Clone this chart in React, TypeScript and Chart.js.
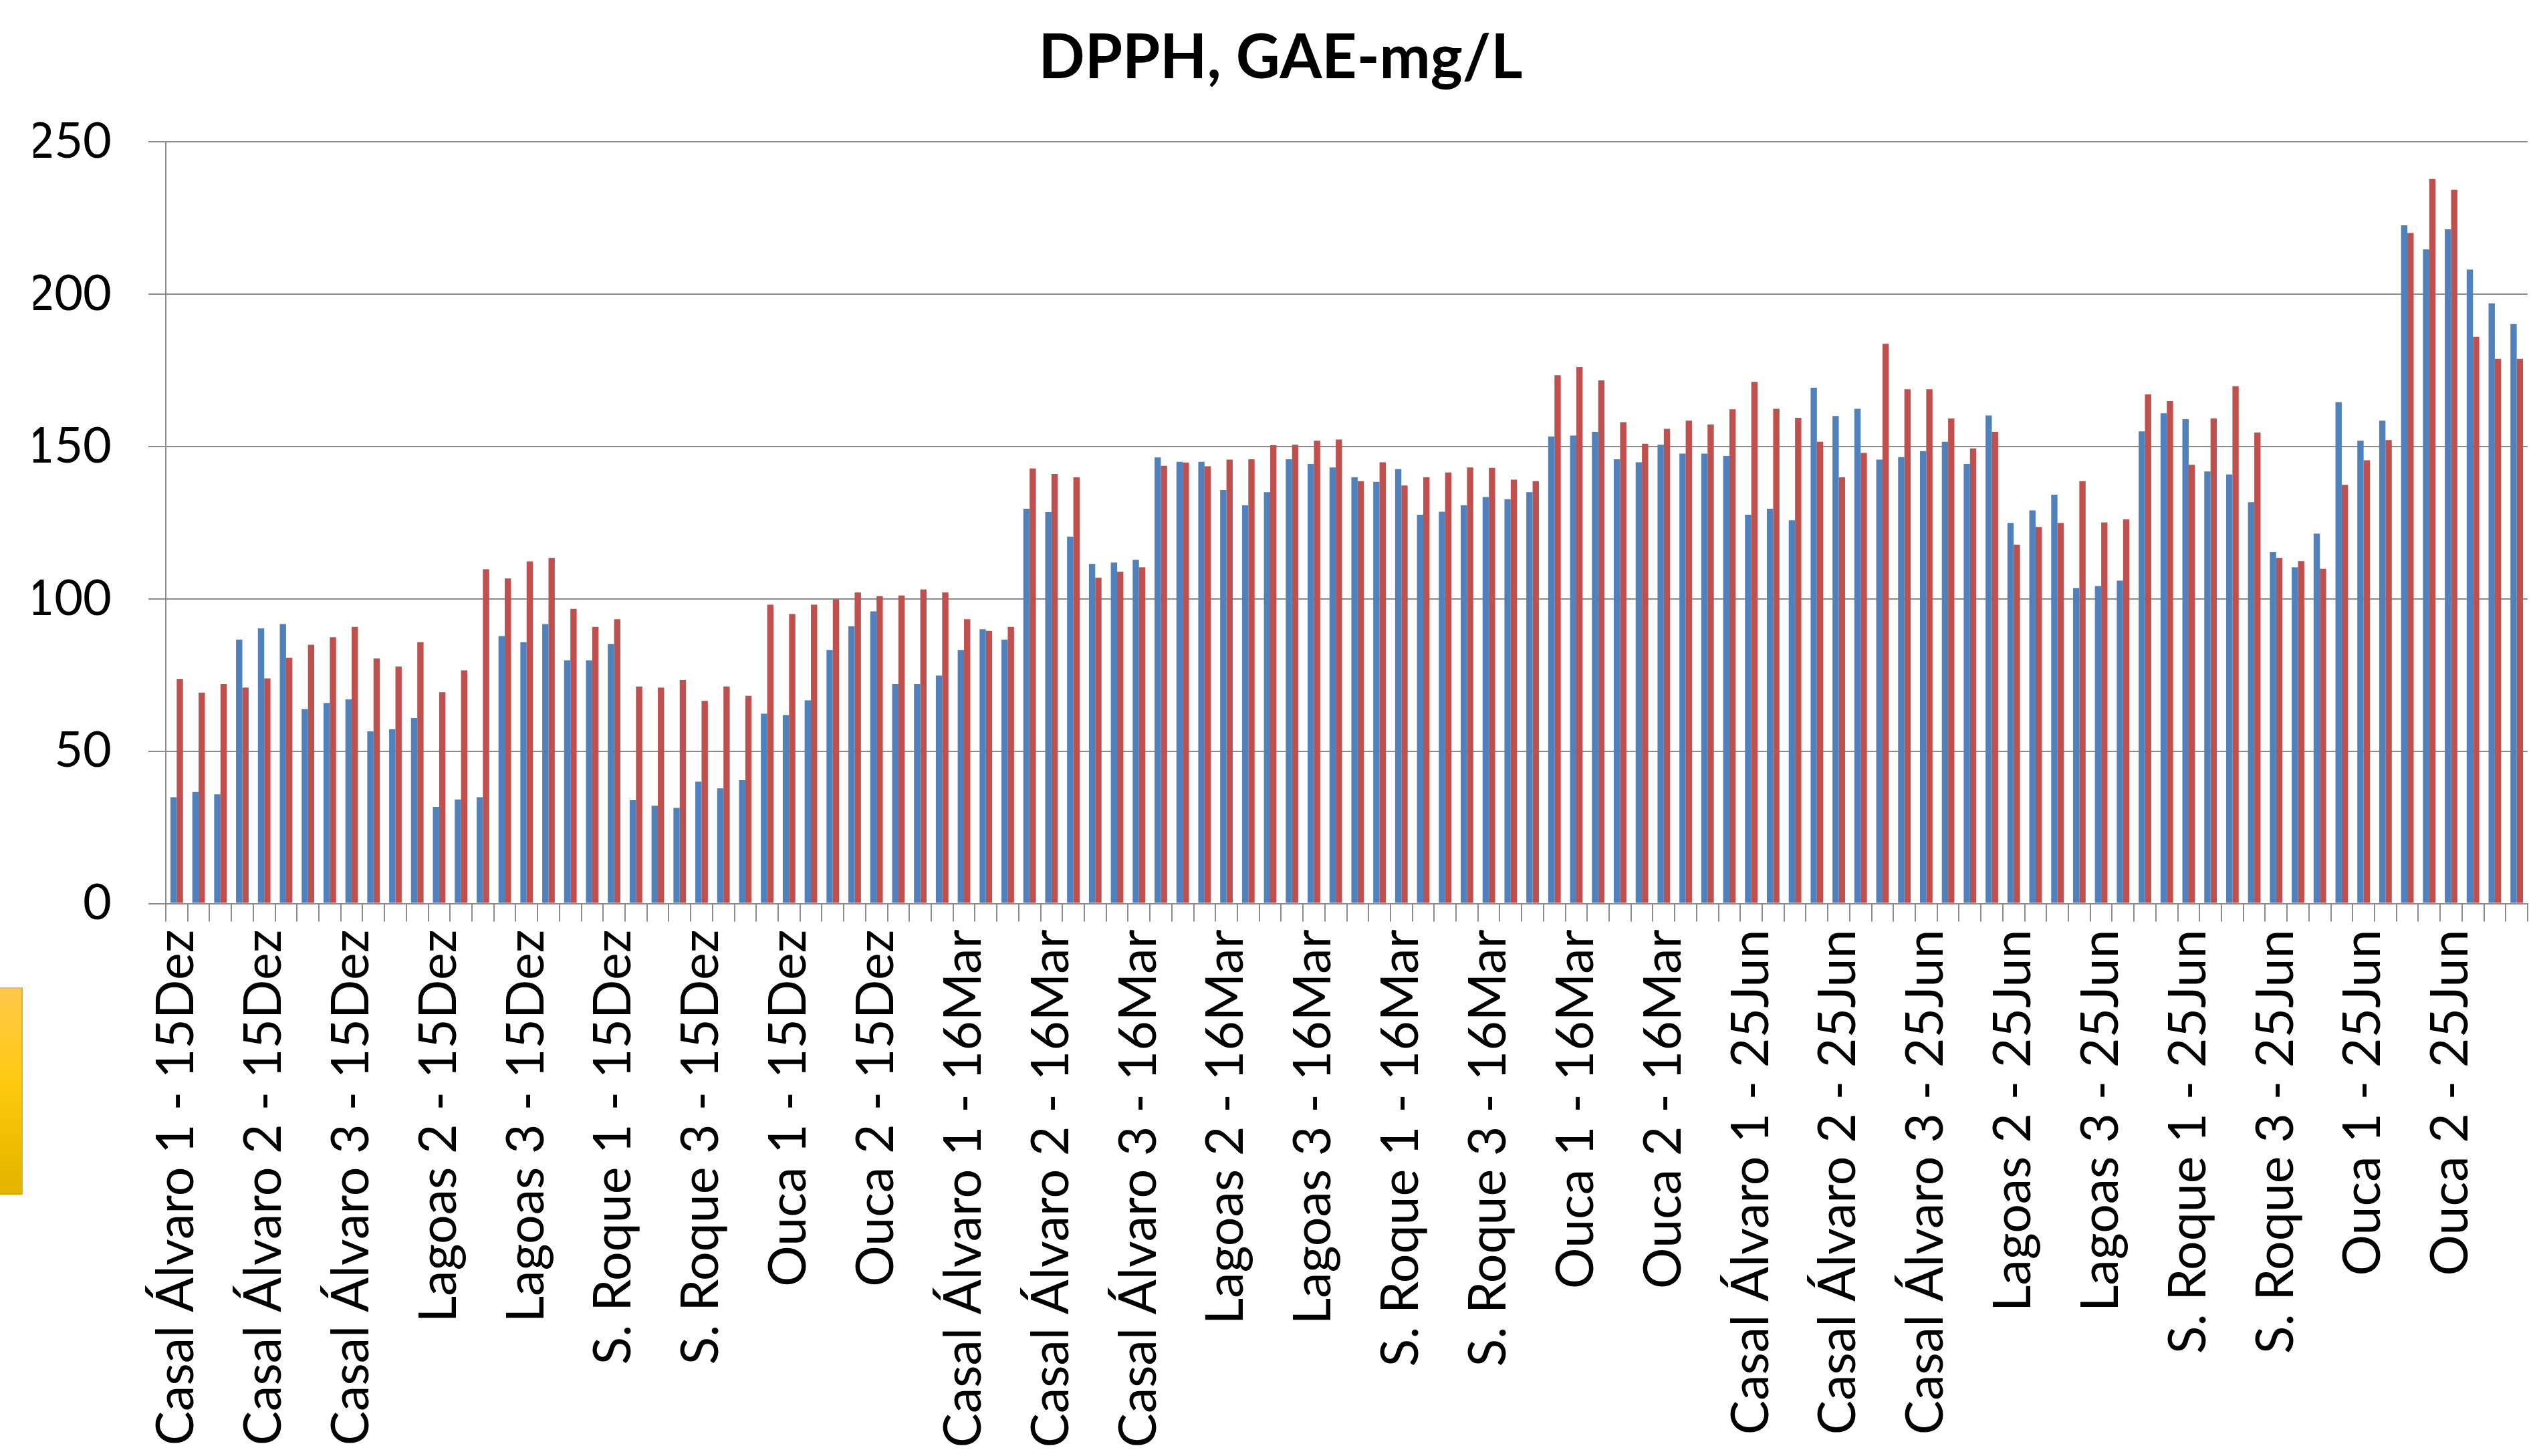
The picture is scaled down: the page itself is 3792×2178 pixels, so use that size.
import React, { useEffect, useRef } from "react";
import { Chart, registerables } from "chart.js";

Chart.register(...registerables);

const chartTitle = "DPPH, GAE-mg/L";
const sites = [
  "Casal Álvaro 1", "Casal Álvaro 2", "Casal Álvaro 3",
  "Lagoas 1", "Lagoas 2", "Lagoas 3",
  "S. Roque 1", "S. Roque 2", "S. Roque 3",
  "Ouca 1", "Ouca 2", "Ouca 3",
];
const dates = ["15Dez", "16Mar", "25Jun"];
const replicates = 3;
const labelEvery = 4;

const categories: string[] = dates.flatMap((d) =>
  sites.flatMap((s) => Array.from({ length: replicates }, () => `${s} - ${d}`))
);

const blueValues = [
  34.9, 36.6, 35.8, 86.6, 90.3, 91.7, 63.8, 65.8, 67.0, 56.5, 57.2, 60.9,
  31.7, 34.1, 34.9, 87.8, 85.8, 91.7, 79.8, 79.8, 85.2, 33.9, 32.1, 31.4,
  40.0, 37.8, 40.5, 62.3, 61.8, 66.7, 83.2, 91.0, 95.9, 72.1, 72.1, 74.8,
  83.2, 90.0, 86.6, 129.6, 128.5, 120.4, 111.4, 111.9, 112.8, 146.4, 145.0, 145.0,
  135.7, 130.7, 135.0, 145.8, 144.3, 143.1, 139.9, 138.4, 142.6, 127.6, 128.6, 130.7,
  133.4, 132.7, 135.0, 153.3, 153.6, 154.8, 145.8, 144.8, 150.6, 147.7, 147.7, 146.9,
  127.6, 129.6, 125.8, 169.3, 160.0, 162.4, 145.7, 146.5, 148.5, 151.6, 144.3, 160.2,
  124.9, 129.0, 134.2, 103.5, 104.2, 106.0, 155.0, 160.9, 159.0, 141.8, 140.8, 131.7,
  115.3, 110.4, 121.4, 164.6, 151.9, 158.5, 222.6, 214.7, 221.3, 208.1, 197.0, 190.2,
];

const redValues = [
  73.6, 69.2, 72.1, 70.9, 73.9, 80.7, 84.9, 87.4, 90.8, 80.4, 77.8, 85.8,
  69.4, 76.5, 109.7, 106.7, 112.3, 113.4, 96.7, 90.8, 93.3, 71.2, 70.9, 73.4,
  66.5, 71.2, 68.2, 98.1, 95.0, 98.1, 99.8, 102.1, 100.9, 101.1, 103.1, 102.1,
  93.3, 89.5, 90.8, 142.8, 141.0, 139.9, 106.9, 108.9, 110.4, 143.7, 144.7, 143.5,
  145.7, 145.8, 150.4, 150.6, 151.9, 152.3, 138.6, 144.8, 137.2, 139.9, 141.5, 143.1,
  143.0, 139.1, 138.6, 173.4, 176.1, 171.7, 158.0, 150.9, 155.8, 158.5, 157.2, 162.2,
  171.2, 162.4, 159.4, 151.6, 139.9, 147.9, 183.7, 168.8, 168.8, 159.2, 149.4, 154.8,
  117.8, 123.6, 124.9, 138.6, 125.1, 126.1, 167.1, 164.9, 144.0, 159.2, 169.8, 154.6,
  113.4, 112.4, 109.9, 137.4, 145.5, 152.1, 220.1, 237.8, 234.3, 186.0, 178.8, 178.8,
];

const yMin = 0;
const yMax = 250;
const yStep = 50;

const W = 3792;
const H = 2178;
const FONT = "Lato, 'Open Sans', sans-serif";
const AXIS_GRAY = "#8c8c8c";
const PAD_LEFT = 50;
const PAD_RIGHT = 11;
const PLOT_LEFT = 248;
const PLOT_BOTTOM = 1351.5;

export default function App() {
  const ref = useRef<HTMLCanvasElement | null>(null);

  useEffect(() => {
    if (!ref.current) return;
    const chart = new Chart(ref.current, {
      type: "bar",
      data: {
        labels: categories,
        datasets: [
          {
            label: "Série 1",
            data: blueValues,
            backgroundColor: "#4F81BD",
            borderWidth: 0,
            barPercentage: 1,
            categoryPercentage: 0.575,
          },
          {
            label: "Série 2",
            data: redValues,
            backgroundColor: "#C0504D",
            borderWidth: 0,
            barPercentage: 1,
            categoryPercentage: 0.575,
          },
        ],
      },
      options: {
        responsive: false,
        animation: false,
        maintainAspectRatio: false,
        layout: { padding: { left: PAD_LEFT, right: PAD_RIGHT, top: 0, bottom: 0 } },
        plugins: {
          legend: { display: false },
          tooltip: { enabled: false },
          title: {
            display: true,
            text: chartTitle,
            color: "#000",
            font: { family: FONT, size: 91, weight: "bold" },
            padding: { top: 33, bottom: 70 },
          },
        },
        scales: {
          x: {
            offset: true,
            grid: {
              offset: true,
              drawOnChartArea: false,
              drawTicks: true,
              tickLength: 27,
              color: AXIS_GRAY,
              lineWidth: 2,
            },
            border: { display: true, color: AXIS_GRAY, width: 2 },
            ticks: {
              autoSkip: false,
              minRotation: 90,
              maxRotation: 90,
              padding: 12,
              color: "#000",
              font: { family: FONT, size: 77 },
              callback: (_v: any, i: number) => (i % labelEvery === 0 ? categories[i] : ""),
            },
            afterFit: (scale: any) => {
              scale.height = H - PLOT_BOTTOM;
              scale.paddingLeft = 0;
              scale.paddingRight = 0;
            },
          },
          y: {
            min: yMin,
            max: yMax,
            grid: {
              color: AXIS_GRAY,
              lineWidth: 2,
              drawTicks: true,
              tickLength: 26,
            },
            border: { display: true, color: AXIS_GRAY, width: 2 },
            ticks: {
              stepSize: yStep,
              padding: 55,
              color: "#000",
              font: { family: FONT, size: 74 },
            },
            afterFit: (scale: any) => {
              scale.width = PLOT_LEFT - PAD_LEFT;
            },
          },
        },
      },
    });
    return () => chart.destroy();
  }, []);

  return (
    <div
      style={{
        position: "fixed",
        left: 0,
        top: 0,
        width: W,
        height: H,
        background: "#fff",
        overflow: "hidden",
      }}
    >
      <canvas ref={ref} width={W} height={H} style={{ width: W, height: H, display: "block" }} />
      <div
        style={{
          position: "absolute",
          left: 0,
          top: 1477,
          width: 32,
          height: 306,
          background: "linear-gradient(to bottom, #FFC84A 0%, #FFCA10 45%, #F2C000 70%, #E3B400 100%)",
          borderRight: "2px solid #E8B030",
          borderTop: "2px solid #F5B840",
          borderBottom: "2px solid #D9A800",
        }}
      />
    </div>
  );
}
